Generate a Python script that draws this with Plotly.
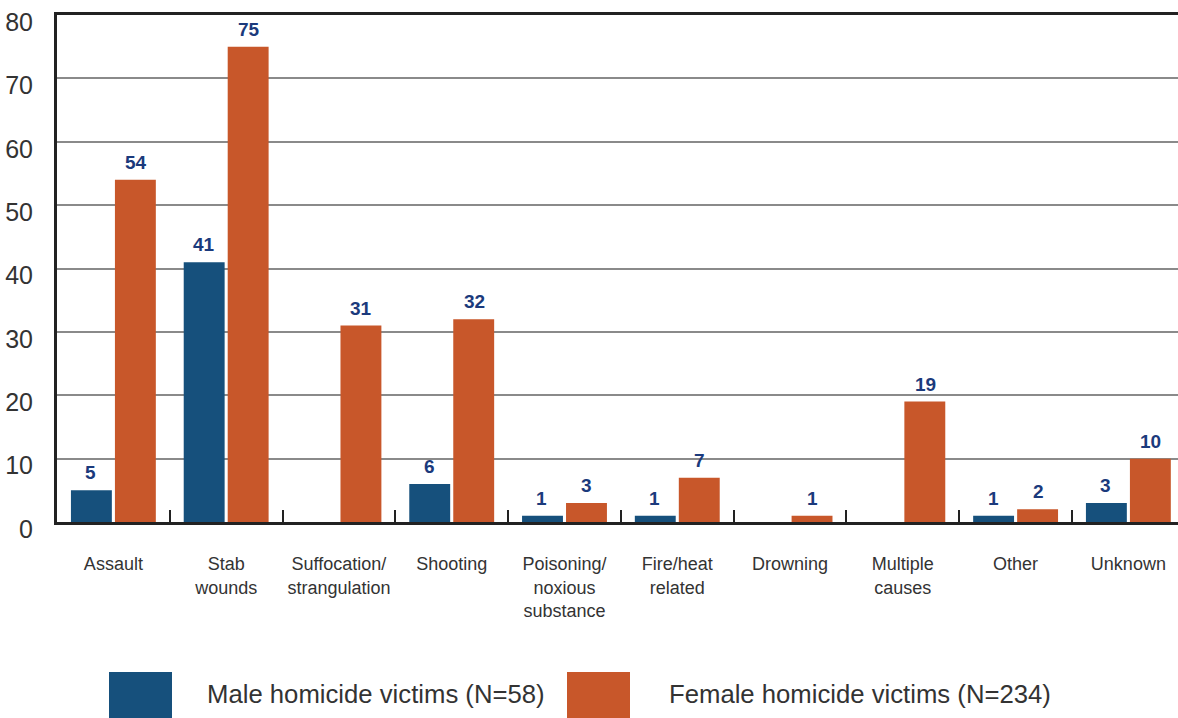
import plotly.graph_objects as go

categories = ["Assault", "Stab<br>wounds", "Suffocation/<br>strangulation", "Shooting",
              "Poisoning/<br>noxious<br>substance", "Fire/heat<br>related", "Drowning",
              "Multiple<br>causes", "Other", "Unknown"]
male_values = [5, 41, 0, 6, 1, 1, 0, 0, 1, 3]
female_values = [54, 75, 31, 32, 3, 7, 1, 19, 2, 10]
series_names = ["Male homicide victims (N=58)", "Female homicide victims (N=234)"]
series_colors = ["#16507c", "#c8572a"]
y_ticks = [0, 10, 20, 30, 40, 50, 60, 70, 80]

LABEL_COLOR = "#1b3a7c"
TEXT_COLOR = "#333333"

fig = go.Figure()
for name, vals, col in zip(series_names, [male_values, female_values], series_colors):
    fig.add_trace(go.Bar(
        x=categories, y=vals, name=name, marker_color=col,
        marker_line_width=0, showlegend=False,
    ))

# value labels above bars (skip zero values)
for vals, xs in zip([male_values, female_values], [-22.5, 22.5]):
    for c, v in zip(categories, vals):
        if v:
            fig.add_annotation(x=c, y=v, text=str(v), showarrow=False, xshift=xs,
                               yanchor="bottom", yshift=5,
                               font=dict(family="Liberation Sans", size=19,
                                         color=LABEL_COLOR, weight="bold"))

L, T, B = 57, 15, 196
W, H = 1178, 718
pw = W - L
ph = H - T - B

fig.update_layout(
    width=W, height=H,
    margin=dict(l=L, r=0, t=T, b=B, autoexpand=False),
    paper_bgcolor="white", plot_bgcolor="white",
    barmode="group", bargap=0.22, bargroupgap=0.07,
    font=dict(family="Liberation Sans", color=TEXT_COLOR),
)
fig.update_xaxes(
    type="category", range=[-0.5, 9.44], tickson="boundaries", ticks="inside",
    ticklen=12, tickwidth=2, automargin=False, tickangle=0,
    tickcolor="#222222", showline=True, linecolor="#222222", linewidth=2.5, mirror=True,
    showgrid=False, tickfont=dict(size=18, color=TEXT_COLOR), ticklabelstandoff=24,
)
fig.update_yaxes(
    range=[0, 80], tickvals=y_ticks, showgrid=True, gridcolor="#8a8a8a", gridwidth=1.5,
    showline=True, linecolor="#222222", linewidth=3, zeroline=False, automargin=False,
    tickfont=dict(size=25, color=TEXT_COLOR), ticks="", ticklabelstandoff=16,
    ticklabelshift=7,
)

# Manual legend with large swatches
legend_boxes = [(109, 172), (567, 630)]
legend_text_x = [205, 667]
y_top, y_bot, y_mid = 672, 722, 694
for (x0, x1), tx, name, col in zip(legend_boxes, legend_text_x, series_names, series_colors):
    fig.add_shape(type="rect", xref="paper", yref="paper",
                  x0=(x0 - L) / pw, x1=(x1 - L) / pw,
                  y0=(H - B - y_bot) / ph, y1=(H - B - y_top) / ph,
                  fillcolor=col, line_width=0)
    fig.add_annotation(xref="paper", yref="paper", x=(tx - L) / pw, y=(H - B - y_mid) / ph,
                       text=name, showarrow=False, xanchor="left", yanchor="middle",
                       font=dict(size=25.7, color=TEXT_COLOR))

fig.write_html("out.html", config={"displayModeBar": False},
               post_script="document.body.style.margin='0';")
